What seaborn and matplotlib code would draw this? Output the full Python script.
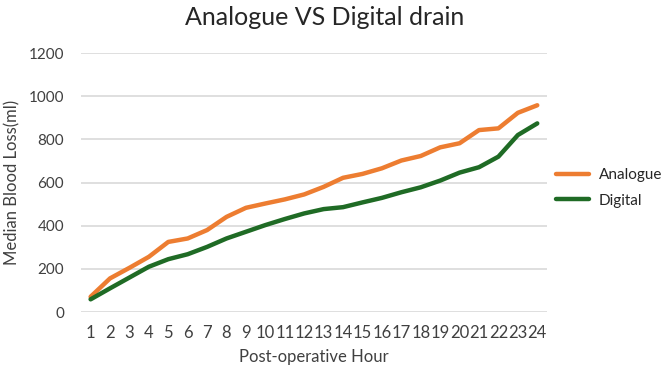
import matplotlib
matplotlib.use("Agg")
import matplotlib.pyplot as plt
import seaborn as sns
import pandas as pd

hours = list(range(1, 25))
analogue = [71, 156, 205, 256, 325, 341, 380, 441, 483, 503, 522, 545, 580, 622, 640,
            666, 702, 723, 763, 782, 843, 851, 923, 958]
digital = [59, 110, 160, 210, 245, 268, 302, 341, 372, 403, 431, 457, 477, 486, 508,
           529, 555, 578, 609, 646, 671, 720, 820, 874]
series_names = ["Analogue", "Digital"]
colors = {"Analogue": "#ED7D31", "Digital": "#1F6B25"}

df = pd.DataFrame({
    "hour": [str(h) for h in hours] * 2,
    "value": analogue + digital,
    "series": ["Analogue"] * len(hours) + ["Digital"] * len(hours),
})

sns.set_theme(style="white")
plt.rcParams["font.family"] = ["Lato", "DejaVu Sans"]

fig = plt.figure(figsize=(6.63, 3.76), dpi=100)
ax = fig.add_axes([0.122, 0.170, 0.703, 0.689])

sns.lineplot(data=df, x="hour", y="value", hue="series", palette=colors,
             linewidth=3.2, ax=ax, sort=False)

ax.set_ylim(0, 1200)
ax.set_yticks(range(0, 1201, 200))
ax.set_xlim(-0.5, 23.5)
ax.grid(axis="y", color="#D9D9D9", linewidth=1.2)
ax.grid(axis="x", visible=False)
ax.set_axisbelow(True)
for s in ax.spines.values():
    s.set_visible(False)
ax.tick_params(axis="both", length=0, colors="#404040")
ax.tick_params(axis="x", pad=9, labelsize=12)
ax.tick_params(axis="y", pad=12, labelsize=11)

ax.set_xlabel("Post-operative Hour", fontsize=12, color="#404040", labelpad=6)
ax.set_ylabel("Median Blood Loss(ml)", fontsize=12, color="#404040", labelpad=6)

fig.suptitle("Analogue VS Digital drain", x=0.49, y=0.985, fontsize=18, color="#262626")

leg = ax.legend(loc="center left", bbox_to_anchor=(0.822, 0.50),
                bbox_transform=fig.transFigure, frameon=False, fontsize=11,
                handlelength=2.2, labelspacing=0.75, handletextpad=0.6,
                borderaxespad=0.3, borderpad=0.4)
for t in leg.get_texts():
    t.set_color("#262626")

fig.savefig("out.png", dpi=100)
